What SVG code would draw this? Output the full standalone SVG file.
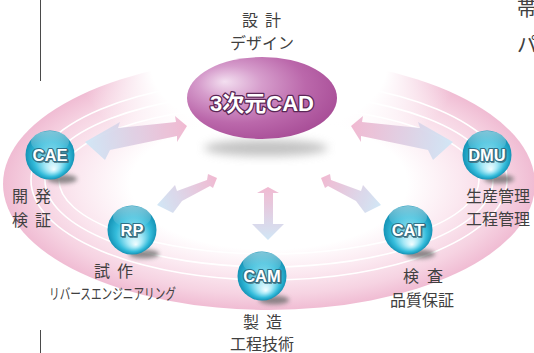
<svg xmlns="http://www.w3.org/2000/svg" width="534" height="353" viewBox="0 0 534 353">
  <defs>
    <style>
      .lbl { font-family: "Noto Sans CJK JP", "Noto Sans", sans-serif; font-size: 16px; fill: #404040; }
      .small { font-size: 15px; }
      .orb-txt { font-family: "Liberation Sans", Arial, sans-serif; font-weight: bold; font-size: 16.5px; text-anchor: middle; fill: #ffffff; stroke: #2f6f86; stroke-width: 2.2; paint-order: stroke; stroke-linejoin: round; }
      .orb-sh { font-family: "Liberation Sans", Arial, sans-serif; font-weight: bold; font-size: 16.5px; text-anchor: middle; fill: #3d5c68; stroke: #3d5c68; stroke-width: 2; stroke-linejoin: round; opacity: 0.7; }
      .orb { fill: url(#orbFill); }
      .orb-gloss { fill: url(#orbGloss); }
      .orb-shadow { fill: #6a6a6a; filter: url(#soft); opacity: 0.75; }
      .ring-line { fill: none; stroke: #ffffff; stroke-width: 1.6; }
      .frame { stroke: #4a4a4a; stroke-width: 1; }
    </style>
    <filter id="soft" x="-50%" y="-100%" width="200%" height="300%">
      <feGaussianBlur stdDeviation="2.2"/>
    </filter>
    <filter id="softer" x="-50%" y="-100%" width="200%" height="300%">
      <feGaussianBlur stdDeviation="5"/>
    </filter>
    <radialGradient id="ringFill" cx="0.5" cy="0.5" r="0.5">
      <stop offset="0" stop-color="#ffffff"/>
      <stop offset="0.52" stop-color="#ffffff"/>
      <stop offset="0.72" stop-color="#fbe8f0"/>
      <stop offset="0.88" stop-color="#f6d3e2"/>
      <stop offset="1" stop-color="#f0bcd3"/>
    </radialGradient>
    <radialGradient id="topFade" cx="0.5" cy="0.5" r="0.5">
      <stop offset="0" stop-color="#ffffff" stop-opacity="1"/>
      <stop offset="0.62" stop-color="#ffffff" stop-opacity="1"/>
      <stop offset="1" stop-color="#ffffff" stop-opacity="0"/>
    </radialGradient>
    <radialGradient id="orbFill" cx="0.5" cy="0.5" r="0.5" fx="0.58" fy="0.8">
      <stop offset="0" stop-color="#f2fdff"/>
      <stop offset="0.3" stop-color="#a6e8f6"/>
      <stop offset="0.7" stop-color="#34bcdb"/>
      <stop offset="1" stop-color="#1593b6"/>
    </radialGradient>
    <linearGradient id="orbGloss" x1="0" y1="0" x2="0" y2="1">
      <stop offset="0" stop-color="#ffffff" stop-opacity="0.45"/>
      <stop offset="1" stop-color="#ffffff" stop-opacity="0"/>
    </linearGradient>
    <radialGradient id="cadFill" cx="0.38" cy="0.38" r="0.7" fx="0.25" fy="0.3">
      <stop offset="0" stop-color="#f3dff0"/>
      <stop offset="0.3" stop-color="#d69dcc"/>
      <stop offset="0.65" stop-color="#bb68ab"/>
      <stop offset="1" stop-color="#a64b95"/>
    </radialGradient>
    <linearGradient id="gCae" gradientUnits="userSpaceOnUse" x1="187" y1="125" x2="85" y2="142">
      <stop offset="0" stop-color="#f1b6cf"/>
      <stop offset="1" stop-color="#cfe6f6"/>
    </linearGradient>
    <linearGradient id="gDmu" gradientUnits="userSpaceOnUse" x1="351" y1="125" x2="453" y2="142">
      <stop offset="0" stop-color="#f1b6cf"/>
      <stop offset="1" stop-color="#cfe6f6"/>
    </linearGradient>
    <linearGradient id="gRp" gradientUnits="userSpaceOnUse" x1="217" y1="178" x2="157" y2="205">
      <stop offset="0" stop-color="#f1b6cf"/>
      <stop offset="1" stop-color="#cfe6f6"/>
    </linearGradient>
    <linearGradient id="gCat" gradientUnits="userSpaceOnUse" x1="321" y1="178" x2="381" y2="205">
      <stop offset="0" stop-color="#f1b6cf"/>
      <stop offset="1" stop-color="#cfe6f6"/>
    </linearGradient>
    <linearGradient id="gCam" gradientUnits="userSpaceOnUse" x1="268" y1="187" x2="268" y2="240">
      <stop offset="0" stop-color="#f1b6cf"/>
      <stop offset="1" stop-color="#cfe6f6"/>
    </linearGradient>
  </defs>

  <rect width="534" height="353" fill="#ffffff"/>

  <!-- page frame rule and side text running off the page edge -->
  <line class="frame" x1="40.5" y1="0" x2="40.5" y2="81"/>
  <line class="frame" x1="40.5" y1="330" x2="40.5" y2="353"/>
  <text class="lbl" x="517" y="16" style="font-size:20px">帯</text>
  <text class="lbl" x="517" y="52" style="font-size:20px">パ</text>

  <!-- orbit disc -->
  <g id="orbit">
    <ellipse cx="269" cy="184" rx="266" ry="126" fill="url(#ringFill)"/>
    <ellipse class="ring-line" cx="269" cy="180" rx="238" ry="100"/>
    <ellipse class="ring-line" cx="269" cy="180" rx="224" ry="87"/>
    <ellipse class="ring-line" cx="269" cy="180" rx="210" ry="74"/>
    <ellipse cx="269" cy="66" rx="190" ry="108" fill="url(#topFade)"/>
  </g>

  <!-- connectors -->
  <g id="connectors" opacity="0.95">
    <polygon fill="url(#gCae)" points="85,142 120,122 118,128 176,122 175,116 187,126 177,142 177,136 110,150 105,160"/>
    <polygon fill="url(#gDmu)" points="453,142 418,122 420,128 362,122 363,116 351,126 361,142 361,136 428,150 433,160"/>
    <polygon fill="url(#gRp)" points="157,205 175,185 177,191 207,180 208,174 217,178 213,188 210,186 182,201 173,213"/>
    <polygon fill="url(#gCat)" points="381,205 363,185 361,191 331,180 330,174 321,178 325,188 328,186 356,201 365,213"/>
    <polygon fill="url(#gCam)" points="268,187 279,193 273,193 273,224 284,224 268,240 252,224 264,224 264,193 257,193"/>
  </g>

  <!-- central hub -->
  <g id="node-cad">
    <ellipse cx="266" cy="148" rx="62" ry="8" fill="#9a9a9a" filter="url(#softer)" opacity="0.6"/>
    <ellipse cx="262" cy="98" rx="75" ry="41" fill="url(#cadFill)"/>
    <text x="262" y="111" text-anchor="middle" font-family="Liberation Sans, Noto Sans CJK JP, sans-serif" font-weight="bold" font-size="22" fill="#ffffff" stroke="#5b2756" stroke-width="2.6" paint-order="stroke" stroke-linejoin="round">3次元CAD</text>
    <text class="lbl" x="242 265" y="26">設計</text>
    <text class="lbl" x="262" y="49" text-anchor="middle">デザイン</text>
  </g>

  <g id="node-cae">
    <ellipse class="orb-shadow" cx="62" cy="179" rx="15" ry="4.5"/>
    <circle class="orb" cx="50" cy="155" r="24.5"/>
    <ellipse class="orb-gloss" cx="50" cy="142" rx="19" ry="11"/>
    <text class="orb-sh" x="51" y="162">CAE</text>
    <text class="orb-txt" x="50" y="161">CAE</text>
    <text class="lbl" x="12 35" y="202">開発</text>
    <text class="lbl" x="12 35" y="226">検証</text>
  </g>

  <g id="node-dmu">
    <ellipse class="orb-shadow" cx="499" cy="179" rx="15" ry="4.5"/>
    <circle class="orb" cx="487" cy="155" r="24.5"/>
    <ellipse class="orb-gloss" cx="487" cy="142" rx="19" ry="11"/>
    <text class="orb-sh" x="488" y="162">DMU</text>
    <text class="orb-txt" x="487" y="161">DMU</text>
    <text class="lbl" x="466" y="202">生産管理</text>
    <text class="lbl" x="466" y="225">工程管理</text>
  </g>

  <g id="node-rp">
    <ellipse class="orb-shadow" cx="144" cy="254" rx="15" ry="4.5"/>
    <circle class="orb" cx="132" cy="230" r="24.5"/>
    <ellipse class="orb-gloss" cx="132" cy="217" rx="19" ry="11"/>
    <text class="orb-sh" x="133" y="237">RP</text>
    <text class="orb-txt" x="132" y="236">RP</text>
    <text class="lbl" x="94 117" y="277">試作</text>
    <text class="lbl small" x="49" y="299" textLength="127" lengthAdjust="spacingAndGlyphs">リバースエンジニアリング</text>
  </g>

  <g id="node-cat">
    <ellipse class="orb-shadow" cx="420" cy="254" rx="15" ry="4.5"/>
    <circle class="orb" cx="408" cy="230" r="24.5"/>
    <ellipse class="orb-gloss" cx="408" cy="217" rx="19" ry="11"/>
    <text class="orb-sh" x="409" y="237">CAT</text>
    <text class="orb-txt" x="408" y="236">CAT</text>
    <text class="lbl" x="403 427" y="282">検査</text>
    <text class="lbl" x="390" y="306">品質保証</text>
  </g>

  <g id="node-cam">
    <ellipse class="orb-shadow" cx="274" cy="300" rx="15" ry="4.5"/>
    <circle class="orb" cx="262" cy="276" r="24.5"/>
    <ellipse class="orb-gloss" cx="262" cy="263" rx="19" ry="11"/>
    <text class="orb-sh" x="263" y="283">CAM</text>
    <text class="orb-txt" x="262" y="282">CAM</text>
    <text class="lbl" x="243 266" y="328">製造</text>
    <text class="lbl" x="230" y="350">工程技術</text>
  </g>
</svg>
